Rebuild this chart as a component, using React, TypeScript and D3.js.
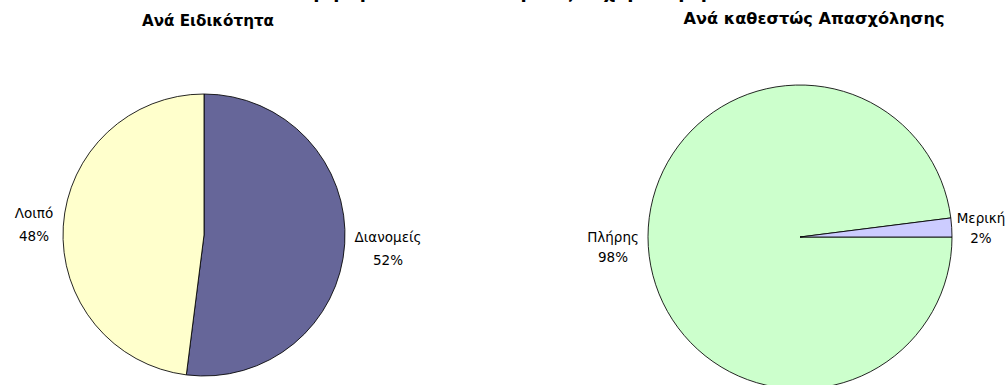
import React from "react";
import * as d3 from "d3";

const specialtyCategories = ["Διανομείς", "Λοιπό"];
const specialtyValues = [52, 48];
const employmentCategories = ["Πλήρης", "Μερική"];
const employmentValues = [98, 2];
const specialtyColors = ["#666699", "#FFFFCC"];
const employmentColors = ["#CCFFCC", "#CCCCFF"];
const titles = ["Ανά Ειδικότητα", "Ανά καθεστώς Απασχόλησης"];
const mainTitle = "Κατανομή προσωπικού εταιρείας ταχυμεταφορών";

type Label = { x: number; y: number; gap: number };

function Pie(props: {
  cx: number;
  cy: number;
  r: number;
  cats: string[];
  vals: number[];
  colors: string[];
  start: number;
  labels: Label[];
}) {
  const { cx, cy, r, cats, vals, colors, start, labels } = props;
  const pie = d3
    .pie<number>()
    .sort(null)
    .value((d) => d)
    .startAngle(start)
    .endAngle(start + 2 * Math.PI);
  const arcs = pie(vals);
  const arc = d3.arc<d3.PieArcDatum<number>>().innerRadius(0).outerRadius(r);
  const total = d3.sum(vals);
  return (
    <g transform={`translate(${cx},${cy})`}>
      {arcs.map((a, i) => (
        <path
          key={i}
          d={arc(a) || ""}
          fill={colors[i]}
          stroke="#000"
          strokeWidth={1}
          strokeOpacity={0.85}
        />
      ))}
      {arcs.map((a, i) => (
        <text
          key={"t" + i}
          x={labels[i].x - cx}
          y={labels[i].y - cy}
          textAnchor="middle"
          fontFamily="DejaVu Sans, sans-serif"
          fontSize={13.5}
          fill="#000"
        >
          <tspan x={labels[i].x - cx}>{cats[i]}</tspan>
          <tspan x={labels[i].x - cx} dy={labels[i].gap}>
            {d3.format(".0%")(vals[i] / total)}
          </tspan>
        </text>
      ))}
    </g>
  );
}

export default function App() {
  return (
    <svg
      width={1007}
      height={385}
      style={{ position: "absolute", left: 0, top: 0, background: "#fff" }}
    >
      <rect width={1007} height={385} fill="#fff" />
      <text
        x={490}
        y={-2}
        textAnchor="middle"
        fontFamily="DejaVu Sans, sans-serif"
        fontWeight="bold"
        fontSize={18}
        fill="#000"
      >
        {mainTitle}
      </text>
      <text
        x={208}
        y={26}
        textAnchor="middle"
        fontFamily="DejaVu Sans, sans-serif"
        fontWeight="bold"
        fontSize={15}
        textLength={132}
        lengthAdjust="spacingAndGlyphs"
        fill="#000"
      >
        {titles[0]}
      </text>
      <text
        x={814}
        y={24}
        textAnchor="middle"
        fontFamily="DejaVu Sans, sans-serif"
        fontWeight="bold"
        fontSize={15}
        textLength={261}
        lengthAdjust="spacingAndGlyphs"
        fill="#000"
      >
        {titles[1]}
      </text>
      <Pie
        cx={204}
        cy={235}
        r={141}
        cats={specialtyCategories}
        vals={specialtyValues}
        colors={specialtyColors}
        start={0}
        labels={[
          { x: 388, y: 242, gap: 23 },
          { x: 34, y: 218, gap: 23 },
        ]}
      />
      <Pie
        cx={800}
        cy={237}
        r={152}
        cats={employmentCategories}
        vals={employmentValues}
        colors={employmentColors}
        start={Math.PI / 2}
        labels={[
          { x: 613, y: 242, gap: 20 },
          { x: 981, y: 223, gap: 20 },
        ]}
      />
    </svg>
  );
}
